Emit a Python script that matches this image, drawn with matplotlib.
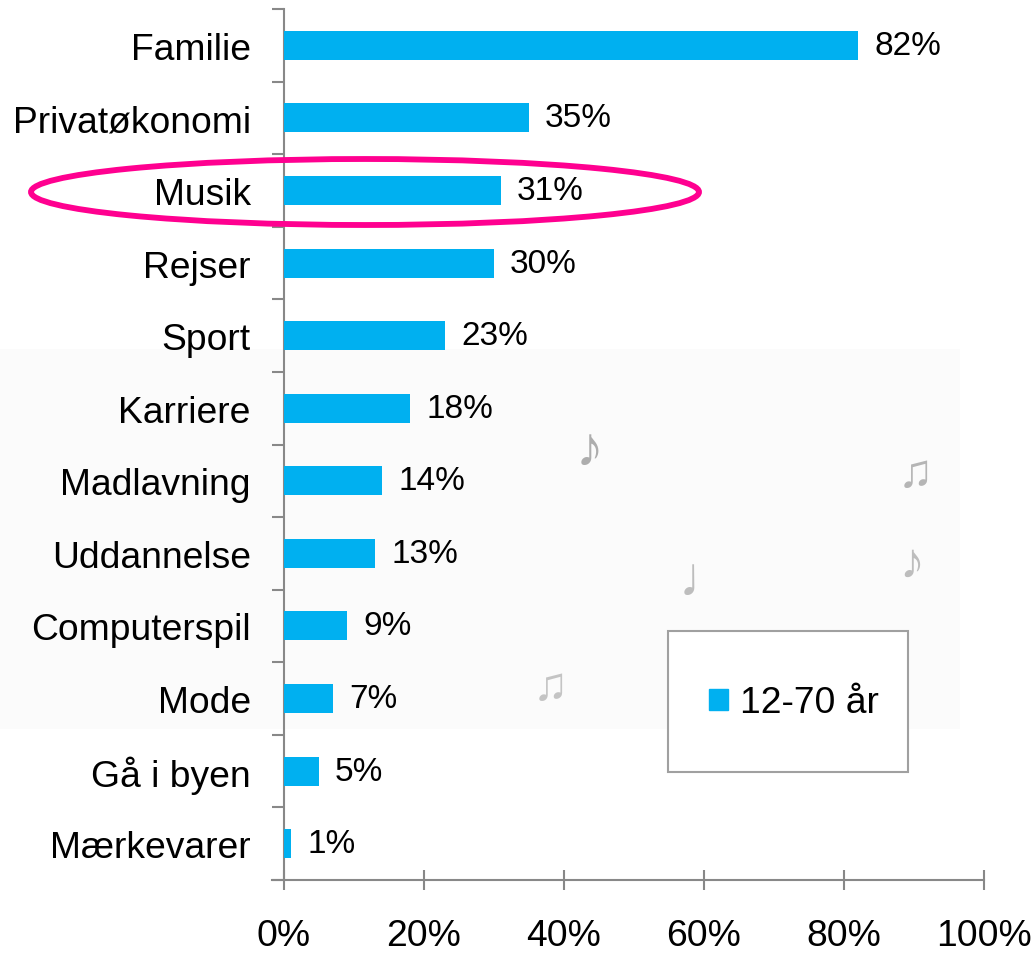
import matplotlib
matplotlib.use("Agg")
import matplotlib.pyplot as plt
from matplotlib.patches import Ellipse, Rectangle
import numpy as np

plt.rcParams['font.family'] = ['Liberation Sans', 'DejaVu Sans']

categories = ["Familie", "Privatøkonomi", "Musik", "Rejser", "Sport", "Karriere",
              "Madlavning", "Uddannelse", "Computerspil", "Mode", "Gå i byen", "Mærkevarer"]
values = [82, 35, 31, 30, 23, 18, 14, 13, 9, 7, 5, 1]
xticks = [0, 20, 40, 60, 80, 100]
series_name = "12-70 år"
bar_color = "#00B0F0"

W, H = 1036, 954
fig = plt.figure(figsize=(W / 100, H / 100), dpi=100)
ax = fig.add_axes([284 / W, 1 - 881 / H, 700 / W, 871 / H])
ax.patch.set_alpha(0)

# faint music-note background
fig.patches.append(Rectangle((0, 1 - 730 / H), 960 / W, 380 / H, transform=fig.transFigure,
                             facecolor="#fbfbfb", edgecolor="none", zorder=-5))
notes = [("♪", 590, 452, 0.5, 40), ("♫", 915, 475, 0.45, 34), ("♪", 912, 565, 0.4, 36),
         ("♩", 706, 582, 0.4, 40), ("♫", 550, 688, 0.35, 34)]
for sym, px, py, a, fs in notes:
    fig.text(px / W, 1 - py / H, sym, fontsize=fs, color="#606060", alpha=a,
             ha="center", va="center", zorder=-4)

y = np.arange(len(categories))
ax.barh(y, values, height=0.4, color=bar_color, zorder=3)
for yi, v in zip(y, values):
    ax.text(v + 2.3, yi, f"{v}%", va="center", ha="left", fontsize=24, color="black")

ax.set_xlim(0, 100)
ax.set_ylim(len(categories) - 0.5, -0.5)
ax.set_yticks(y)
ax.set_yticklabels(categories, fontsize=26.8)
ax.set_yticks(np.arange(len(categories) + 1) - 0.5, minor=True)
ax.tick_params(axis="y", which="major", length=0, pad=24)
ax.tick_params(axis="y", which="minor", length=8.6, width=1.5, color="#888888")
ax.set_xticks(xticks)
ax.set_xticklabels([f"{t}%" for t in xticks], fontsize=26.8)
ax.tick_params(axis="x", direction="inout", length=14, width=1.5, color="#888888", pad=20)

for s in ["top", "right"]:
    ax.spines[s].set_visible(False)
for s in ["left", "bottom"]:
    ax.spines[s].set_color("#888888")
    ax.spines[s].set_linewidth(1.5)
ax.spines["bottom"].set_bounds(-1.7, 100)

# legend with a separate frame
fig.patches.append(Rectangle((668 / W, 1 - 773 / H), 240 / W, 141 / H, transform=fig.transFigure,
                             facecolor="white", edgecolor="#a0a0a0", linewidth=1.5, zorder=5))
leg = fig.legend([Rectangle((0, 0), 1, 1, color=bar_color)], [series_name], loc="center",
                 bbox_to_anchor=(794 / W, 1 - 704 / H), frameon=False, fontsize=26.8,
                 handlelength=0.5, handleheight=0.5, handletextpad=0.33)
leg.set_zorder(6)

# highlight ellipse round "Musik"
fig.patches.append(Ellipse((365 / W, 1 - 193 / H), 668 / W, 66 / H, transform=fig.transFigure,
                           facecolor="none", edgecolor="#FF0090", linewidth=4.2, zorder=10))

fig.savefig("out.png", dpi=100)
